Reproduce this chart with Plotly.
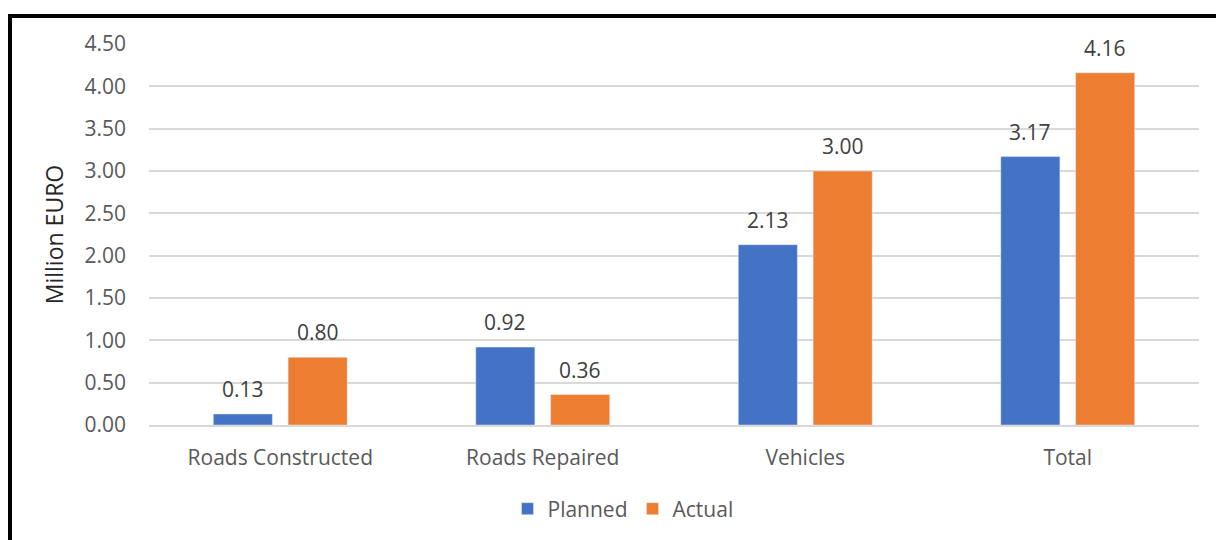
import plotly.graph_objects as go

categories = ["Roads Constructed", "Roads Repaired", "Vehicles", "Total"]
planned = [0.13, 0.92, 2.13, 3.17]
actual = [0.80, 0.36, 3.00, 4.16]
y_ticks = [0, 0.5, 1.0, 1.5, 2.0, 2.5, 3.0, 3.5, 4.0, 4.5]

FONT = "Open Sans"
W, H = 1216, 540
L, R, T, B = 149, 17, 44, 115
pw, ph = W - L - R, H - T - B
BARGAP = 0.43

def px_x(x):
    return (x - L) / pw

def px_y(y):
    return (H - B - y) / ph

fig = go.Figure()
series = [("Planned", planned, "#4472C4"), ("Actual", actual, "#ED7D31")]
for name, vals, col in series:
    fig.add_trace(go.Bar(x=categories, y=vals, name=name, marker_color=col))

# data labels above bars
slot = pw / len(categories) * (1 - BARGAP) / len(series)
annotations = []
for i, (name, vals, col) in enumerate(series):
    off = (i - (len(series) - 1) / 2) * slot
    for c, v in zip(categories, vals):
        annotations.append(dict(
            x=c, y=v, xref="x", yref="y", text=f"{v:.2f}", showarrow=False,
            xshift=off, yshift=25, yanchor="middle", xanchor="center",
            font=dict(size=21, color="#404040", family=FONT)))

fig.update_layout(
    width=W, height=H,
    margin=dict(l=L, r=R, t=T, b=B, autoexpand=False),
    paper_bgcolor="white", plot_bgcolor="white",
    barmode="group", bargap=BARGAP, bargroupgap=0.21,
    font=dict(family=FONT, color="#595959", size=21),
    legend=dict(orientation="h", x=px_x(623), xanchor="center", y=px_y(509), yanchor="middle",
                font=dict(size=21, color="#595959"), traceorder="normal",
                itemwidth=30),
    showlegend=True,
    annotations=annotations,
    xaxis=dict(showgrid=False, showline=True, linecolor="#d9d9d9", linewidth=1.5,
               ticks="", ticklabelstandoff=13, tickfont=dict(size=21, color="#595959")),
    yaxis=dict(range=[0, 4.5], tickvals=y_ticks, tickformat=".2f",
               showgrid=True, gridcolor="#d9d9d9", gridwidth=1.5, zeroline=False,
               ticks="", ticklabelstandoff=22, tickfont=dict(size=21, color="#595959"),
               title=dict(text="Million EURO", font=dict(size=23, color="#262626"), standoff=14)),
    shapes=[dict(type="rect", xref="paper", yref="paper",
                 x0=px_x(10), x1=px_x(1240), y0=px_y(16), y1=px_y(600),
                 line=dict(color="black", width=4), fillcolor="rgba(0,0,0,0)", layer="above")],
)

fig.write_html("out.html")
